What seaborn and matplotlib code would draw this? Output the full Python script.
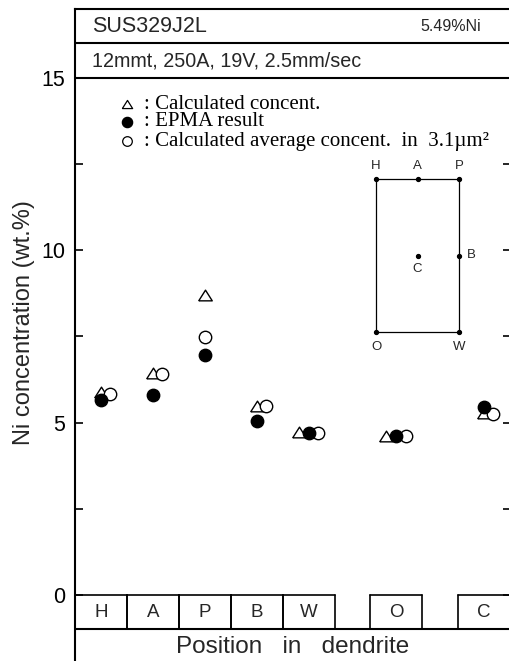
import matplotlib
matplotlib.use("Agg")
import matplotlib.pyplot as plt
import numpy as np
import pandas as pd
import seaborn as sns

# Ni concentration at positions in the dendrite cell
positions = ["H", "A", "P", "B", "W", "O", "C"]
calculated = [5.88, 6.44, 8.70, 5.48, 4.72, 4.61, 5.29]
epma = [5.67, 5.79, 6.97, 5.05, 4.70, 4.62, 5.45]
calc_average = [5.82, 6.42, 7.49, 5.48, 4.70, 4.62, 5.26]

steel = "SUS329J2L"
nominal_ni = "5.49%Ni"
conditions = "12mmt, 250A, 19V, 2.5mm/sec"
legend_labels = [": Calculated concent.",
                 ": EPMA result",
                 ": Calculated average concent.  in  3.1µm²"]
y_major = [0, 5, 10, 15]
y_minor = [2.5, 7.5, 12.5]
x_title = "Position   in   dendrite"
y_title = "Ni concentration (wt.%)"

sns.set_theme(style="ticks")
plt.rcParams["font.family"] = ["Liberation Sans", "DejaVu Sans"]
serif = ["Liberation Serif", "DejaVu Serif"]

W, H = 509, 661
fig = plt.figure(figsize=(W / 100, H / 100), dpi=100)

# axes geometry in pixels; the frame runs past the right and bottom edges
left_px, right_px, top_px = 75, 511, 9
ux, uy = 52.0, 34.47
y_top, y_bot = 17.0, -2.5
ax_h = (y_top - y_bot) * uy
ax = fig.add_axes([left_px / W, 1 - (top_px + ax_h) / H,
                   (right_px - left_px) / W, ax_h / H])
x_max = (right_px - left_px) / ux
ax.set_xlim(0, x_max)
ax.set_ylim(y_bot, y_top)

# slots along the position row: H..W adjacent, then O and C separated by gaps
gap = 0.68
slot_left = []
cur = 0.0
for p in positions:
    if p in ("O", "C"):
        cur += gap
    slot_left.append(cur)
    cur += 1.0
slot_center = np.array(slot_left) + 0.5

# small sideways dodges so overlapping symbols stay readable
tri_shift = np.array([-0.19 if p in ("W", "O") else 0.0 for p in positions])
open_shift = np.array([0.0 if p == "P" else 0.18 for p in positions])

df = pd.DataFrame({
    "position": positions,
    "x": slot_center,
    "calculated": calculated,
    "epma": epma,
    "calc_average": calc_average,
})
df["x_tri"] = df["x"] + tri_shift
df["x_open"] = df["x"] + open_shift

tri = [(-1, -0.79), (1, -0.79), (0, 0.79), (-1, -0.79)]
lw_mark = 1.0
sns.scatterplot(data=df, x="x_tri", y="calculated", marker=tri, s=95,
                color="white", edgecolor="black", linewidth=lw_mark,
                ax=ax, zorder=3, legend=False)
sns.scatterplot(data=df, x="x_open", y="calc_average", marker="o", s=80,
                color="white", edgecolor="black", linewidth=lw_mark,
                ax=ax, zorder=4, legend=False)
sns.scatterplot(data=df, x="x", y="epma", marker="o", s=80,
                color="black", edgecolor="black", linewidth=lw_mark,
                ax=ax, zorder=5, legend=False)

# legend block
leg_x, leg_y = 0.994, [14.24, 13.73, 13.17]
ax.scatter([leg_x], [leg_y[0]], marker=tri, s=55, facecolor="white",
           edgecolor="black", linewidth=0.9, zorder=5)
ax.scatter([leg_x], [leg_y[1]], marker="o", s=55, facecolor="black",
           edgecolor="black", linewidth=0.9, zorder=5)
ax.scatter([leg_x], [leg_y[2]], marker="o", s=48, facecolor="white",
           edgecolor="black", linewidth=0.9, zorder=5)
for yy, lab in zip(leg_y, legend_labels):
    ax.text(1.33, yy, lab, family=serif, fontsize=15, va="center",
            ha="left", color="black")

# header rows
frame_lw = 1.5
for yy in (16.0, 15.0):
    ax.axhline(yy, color="black", lw=frame_lw, zorder=2)
ax.text(0.33, 16.5, steel, fontsize=15.5, va="center", ha="left")
ax.text(7.81, 16.5, nominal_ni, fontsize=11.5, va="center", ha="right")
ax.text(0.33, 15.5, conditions, fontsize=14.2, va="center", ha="left")

# position boxes under the data area
box_lw = 1.2
ax.axhline(-1.0, color="black", lw=frame_lw, zorder=2)
for i, p in enumerate(positions):
    l = slot_left[i]
    r = min(l + 1.0, x_max + 0.1)
    ax.plot([l, r], [0, 0], color="black", lw=box_lw, zorder=2)
    ax.plot([l, l], [0, -1], color="black", lw=box_lw, zorder=2)
    ax.plot([r, r], [0, -1], color="black", lw=box_lw, zorder=2)
    ax.text(slot_center[i], -0.5, p, fontsize=13.5, ha="center", va="center")
ax.text(4.18, -1.52, x_title, fontsize=17.5, ha="center", va="center")

# axis styling
ax.set_xticks([])
ax.set_yticks(y_major)
ax.set_yticks(y_minor, minor=True)
ax.set_yticklabels([str(v) for v in y_major], fontsize=15.5)
ax.tick_params(axis="y", which="both", direction="in", length=6, width=1.2,
               left=True, right=True, pad=7, colors="black")
ax.set_xlabel("")
ax.set_ylabel("")
for side in ("left", "top", "right"):
    ax.spines[side].set_linewidth(frame_lw)
    ax.spines[side].set_color("black")
ax.spines["bottom"].set_visible(False)
fig.text(24 / W, 1 - 323 / H, y_title, rotation=90, fontsize=17,
         ha="center", va="center")

# dendrite cell sketch with the sampled positions
cell = {"H": (0, 2), "A": (1, 2), "P": (2, 2), "B": (2, 1),
        "C": (1, 1), "O": (0, 0), "W": (2, 0)}
sk = fig.add_axes([376 / W, 1 - 332 / H, (459 - 376) / W, (332 - 179) / H])
sk.set_xlim(0, 2)
sk.set_ylim(0, 2)
sk.axis("off")
sk.plot([0, 2, 2, 0, 0], [0, 0, 2, 2, 0], color="black", lw=0.9,
        clip_on=False)
for name, (cx, cy) in cell.items():
    sk.plot(cx, cy, "o", color="black", ms=2.8, clip_on=False)
    if cy == 2:
        sk.text(cx, cy + 0.17, name, ha="center", va="center", fontsize=9.5)
    elif cy == 0:
        sk.text(cx, cy - 0.2, name, ha="center", va="center", fontsize=9.5)
    elif name == "B":
        sk.text(cx + 0.3, cy, name, ha="center", va="center", fontsize=9.5)
    else:
        sk.text(cx, cy - 0.17, name, ha="center", va="center", fontsize=9.5)

fig.savefig("out.png", dpi=100)
